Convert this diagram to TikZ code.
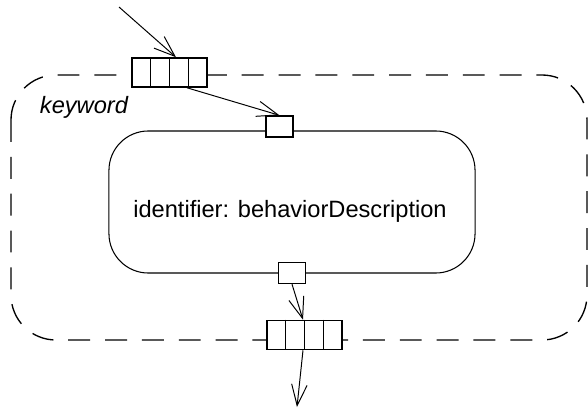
\documentclass[tikz,border=0pt]{standalone}
\usepackage{fontspec}
\setmainfont{Liberation Sans}
\usetikzlibrary{arrows.meta,calc}

\begin{document}
\begin{tikzpicture}[
    x=0.025cm, y=-0.025cm,
    region/.style={draw, line width=0.95pt, dash pattern=on 15.6pt off 10.6pt, rounded corners=32pt},
    actionbox/.style={draw, line width=0.75pt, rounded corners=28pt, minimum width=9.15cm, minimum height=3.55cm, inner sep=0pt},
    pinbox/.style={draw, fill=white, line width=1.1pt, inner sep=0pt, minimum width=1.875cm, minimum height=0.725cm},
    smallpin/.style={draw, fill=white, line width=1.1pt, inner sep=0pt, minimum width=0.68cm, minimum height=0.52cm},
    flow/.style={draw, line width=0.7pt, -{Straight Barb[length=15pt,width=11pt]}},
    label/.style={font=\fontsize{16.8}{20}\selectfont}
]
    \useasboundingbox (0,0) rectangle (588,409);

    % expansion region
    \draw[region] (11,75) rectangle (587,340);
    \node[label, font=\fontsize{16.8}{20}\selectfont\itshape, anchor=base west] (kw) at (35,113) {keyword};

    % action inside the region
    \node[actionbox] (action) at (292,202) {};
    \node[label, anchor=base] (desc) at (290,217) {identifier: behaviorDescription};
    \node[smallpin] (toppin) at (279.5,126.5) {};
    \node[smallpin] (botpin) at (292,273) {};

    % input and output pins of the region
    \node[pinbox] (inpin) at (169.5,72.5) {};
    \node[pinbox] (outpin) at (304.5,335) {};
    \foreach \p in {inpin,outpin}
        \foreach \f in {0.25,0.5,0.75}
            \draw[line width=1.1pt] ($(\p.north west)!\f!(\p.north east)$) -- ($(\p.south west)!\f!(\p.south east)$);

    % flows
    \coordinate (src) at (119,7);
    \coordinate (sink) at (297,407);
    \draw[flow] (src) -- ($(inpin.north)+(6.5,0)$);
    \draw[flow] ($(inpin.south)+(17.5,0)$) -- (toppin.north);
    \draw[flow] (botpin.south) -- ($(outpin.north)+(-1.5,0)$);
    \draw[flow] ($(outpin.south)+(-1.5,0)$) -- (sink);
\end{tikzpicture}
\end{document}
